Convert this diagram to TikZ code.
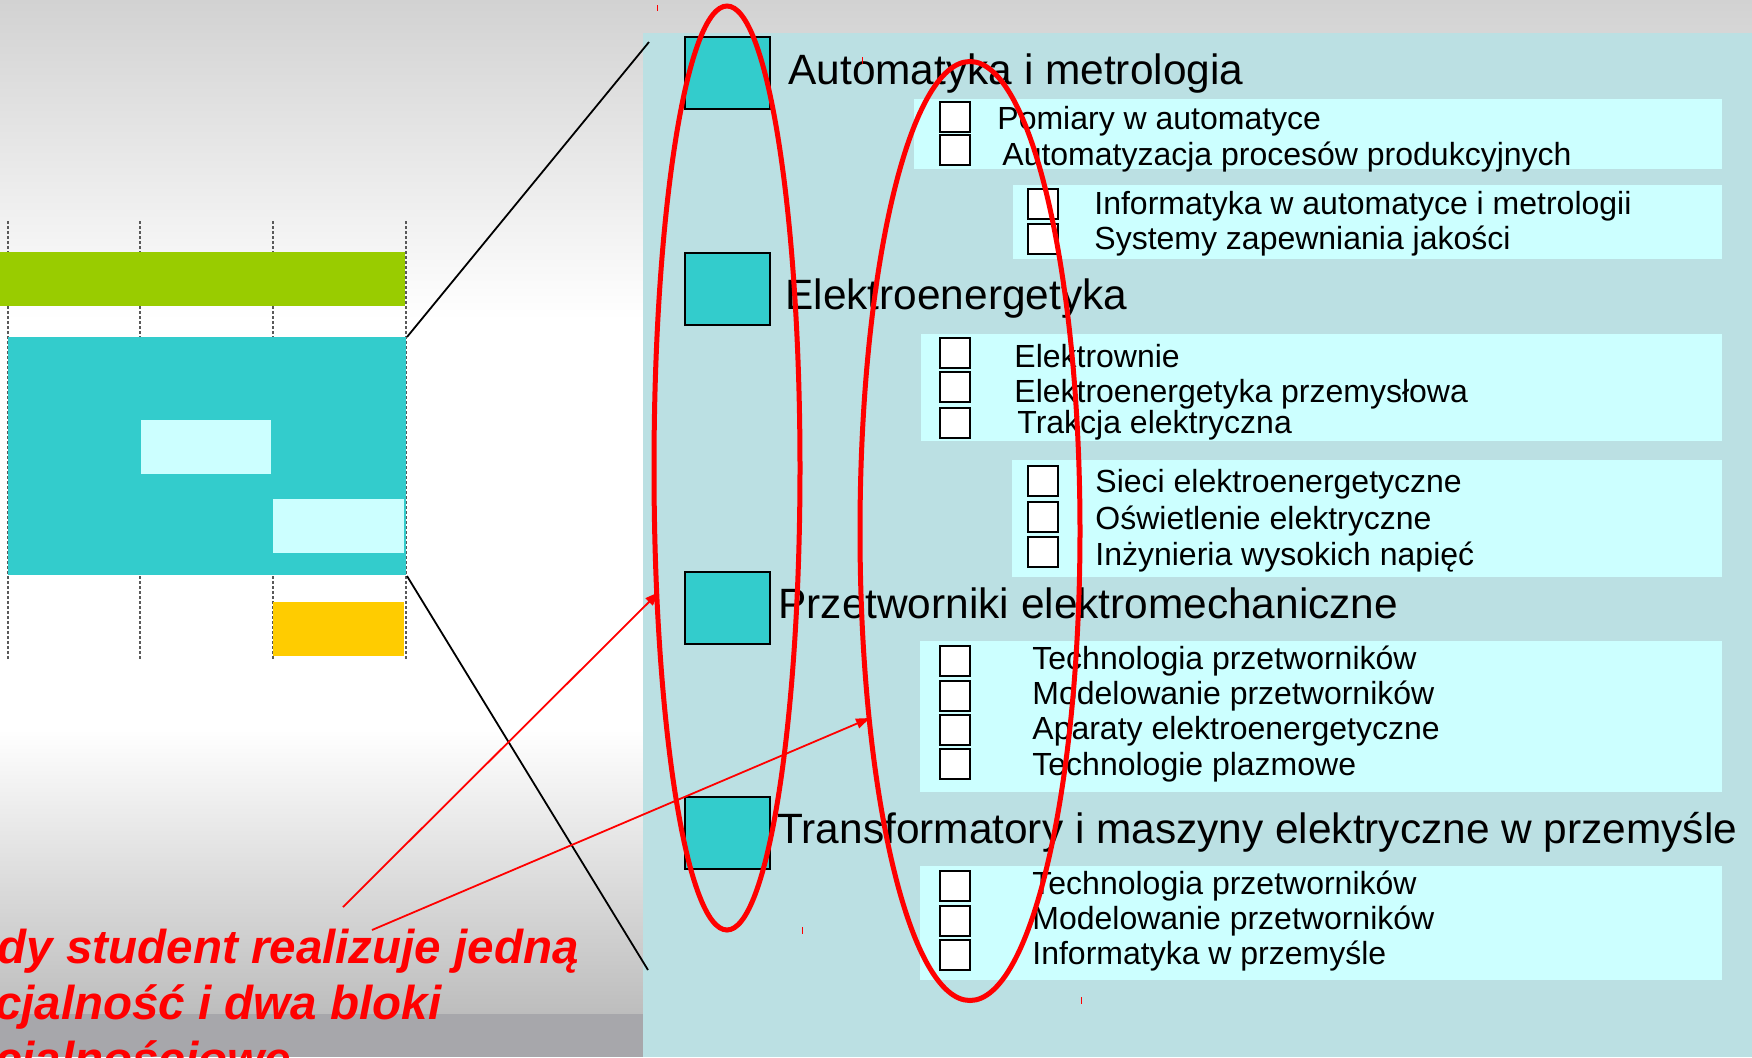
\documentclass[tikz,border=0pt]{standalone}
\usepackage{fontspec}
\setmainfont{Liberation Sans}
\usetikzlibrary{arrows.meta,shapes.geometric}
\definecolor{tealbox}{HTML}{33CCCC}
\definecolor{lcyan}{HTML}{CCFFFF}
\definecolor{lgreen}{HTML}{99CC00}
\definecolor{lorange}{HTML}{FFCC00}
\definecolor{panelbg}{HTML}{BBE0E3}
\definecolor{gtop}{HTML}{D2D2D2}
\definecolor{gbot}{HTML}{BDBDBD}
\definecolor{gband}{HTML}{A7A7AB}
\definecolor{pured}{HTML}{FF0000}
\begin{document}
\begin{tikzpicture}[x=0.5pt,y=-0.5pt,
  dotline/.style={draw=black!65, line width=0.6pt, dash pattern=on 1.5pt off 1pt},
  blackline/.style={draw=black, line width=0.9pt},
  redarrow/.style={draw=pured, line width=0.9pt, -{Triangle[length=7pt,width=5pt]}},
  redring/.style={draw=pured, line width=2.5pt},
  tealsq/.style={draw=black, line width=1pt, fill=tealbox, anchor=north west, inner sep=0pt, minimum width=42.5pt, minimum height=36pt},
  lbox/.style={fill=lcyan, anchor=north west, inner sep=0pt},
  chk/.style={draw=black, line width=1pt, fill=white, anchor=north west, inner sep=0pt, minimum width=15pt, minimum height=15pt},
  head/.style={anchor=base west, inner sep=0pt, font=\fontsize{21.2}{25}\selectfont},
  item/.style={anchor=base west, inner sep=0pt, font=\fontsize{16}{19}\selectfont},
  tick/.style={draw=pured, line width=0.5pt}]
\useasboundingbox (0,0) rectangle (1752,1057);
\clip (0,0) rectangle (1752,1057);
% backgrounds
\shade[top color=gtop, bottom color=white] (0,0) rectangle (1752,320);
\fill[white] (0,319) rectangle (643,730);
\shade[top color=white, bottom color=gbot] (0,729) rectangle (643,1014);
\fill[gband] (0,1014) rectangle (643,1057);
\fill[panelbg] (643,33) rectangle (1752,1057);
% left block diagram
\foreach \xx in {8,140,273,406} \draw[dotline] (\xx,221) -- (\xx,659);
\fill[lgreen] (0,252) rectangle (405,306);
\fill[tealbox] (8,337) rectangle (406,575);
\fill[lcyan] (141,420) rectangle (271,474);
\fill[lcyan] (273,499) rectangle (404,553);
\fill[lorange] (273,602) rectangle (404,656);
\coordinate (bigNE) at (407,337);
\coordinate (bigSE) at (407,576);
\coordinate (zoomTop) at (649,42);
\coordinate (zoomBot) at (648,970);
% right panel: light boxes
\node[lbox, minimum width=404pt, minimum height=35pt] (bA) at (914,99) {};
\node[lbox, minimum width=354.5pt, minimum height=37pt] (bB) at (1013,185) {};
\node[lbox, minimum width=400.5pt, minimum height=53.5pt] (bC) at (921,334) {};
\node[lbox, minimum width=355pt, minimum height=58.5pt] (bD) at (1012,460) {};
\node[lbox, minimum width=401pt, minimum height=75.5pt] (bE) at (920,641) {};
\node[lbox, minimum width=401pt, minimum height=57pt] (bF) at (920,866) {};
% teal squares and headings
\node[tealsq] (s1) at (684,36) {};
\node[tealsq] (s2) at (684,252) {};
\node[tealsq] (s3) at (684,571) {};
\node[tealsq] (s4) at (684,796) {};
\node[head] (h1) at (788,84) {Automatyka i metrologia};
\node[head] (h2) at (785,309) {Elektroenergetyka};
\node[head] (h3) at (778,618) {Przetworniki elektromechaniczne};
\node[head] (h4) at (777,843) {Transformatory i maszyny elektryczne w przemyśle};
% checkboxes
\node[chk] (cA1) at (939,101) {};
\node[chk] (cA2) at (939,134) {};
\node[chk] (cB1) at (1027,188) {};
\node[chk] (cB2) at (1027,223) {};
\node[chk] (cC1) at (939,337) {};
\node[chk] (cC2) at (939,371) {};
\node[chk] (cC3) at (939,407) {};
\node[chk] (cD1) at (1027,465) {};
\node[chk] (cD2) at (1027,501) {};
\node[chk] (cD3) at (1027,536) {};
\node[chk] (cE1) at (939,645) {};
\node[chk] (cE2) at (939,680) {};
\node[chk] (cE3) at (939,714) {};
\node[chk] (cE4) at (939,748) {};
\node[chk] (cF1) at (939,870) {};
\node[chk] (cF2) at (939,905) {};
\node[chk] (cF3) at (939,939) {};
% items
\node[item] (tA1) at (997,129) {Pomiary w automatyce};
\node[item] (tA2) at (1002,165) {Automatyzacja procesów produkcyjnych};
\node[item] (tB1) at (1094,214) {Informatyka w automatyce i metrologii};
\node[item] (tB2) at (1094,249) {Systemy zapewniania jakości};
\node[item] (tC1) at (1014,367) {Elektrownie};
\node[item] (tC2) at (1014,402) {Elektroenergetyka przemysłowa};
\node[item] (tC3) at (1017,433) {Trakcja elektryczna};
\node[item] (tD1) at (1095,492) {Sieci elektroenergetyczne};
\node[item] (tD2) at (1095,529) {Oświetlenie elektryczne};
\node[item] (tD3) at (1095,565) {Inżynieria wysokich napięć};
\node[item] (tE1) at (1032,669) {Technologia przetworników};
\node[item] (tE2) at (1032,704) {Modelowanie przetworników};
\node[item] (tE3) at (1032,739) {Aparaty elektroenergetyczne};
\node[item] (tE4) at (1032,775) {Technologie plazmowe};
\node[item] (tF1) at (1032,894) {Technologia przetworników};
\node[item] (tF2) at (1032,929) {Modelowanie przetworników};
\node[item] (tF3) at (1032,964) {Informatyka w przemyśle};
% red note (partly outside the frame, as in the reference)
\node[anchor=base west, inner sep=0pt, align=left, text=pured,
      font=\fontsize{23.75}{28}\selectfont\bfseries\itshape] (note) at (-87,1075)
      {Każdy student realizuje jedną\\specjalność i dwa bloki\\specjalnościowe};
% zoom connectors
\draw[blackline] (bigNE) -- (zoomTop);
\draw[blackline] (bigSE) -- (zoomBot);
% red arrows
\coordinate (a1s) at (343,907);
\coordinate (a2s) at (372,930);
\coordinate (a1e) at (659,592);
\coordinate (a2e) at (870,718);
\draw[redarrow] (a1s) -- (a1e);
\draw[redarrow] (a2s) -- (a2e);
% red ellipses
\node[redring, ellipse, inner sep=0pt, minimum width=73pt, minimum height=462pt] (e1) at (727,468) {};
\node[redring, ellipse, inner sep=0pt, minimum width=110pt, minimum height=469.5pt] (e2) at (970,531) {};
% small selection ticks
\draw[tick] (657,5) -- (657,11);
\draw[tick] (862,57) -- (862,64);
\draw[tick] (802,927) -- (802,934);
\draw[tick] (1081,997) -- (1081,1004);
\end{tikzpicture}
\end{document}
